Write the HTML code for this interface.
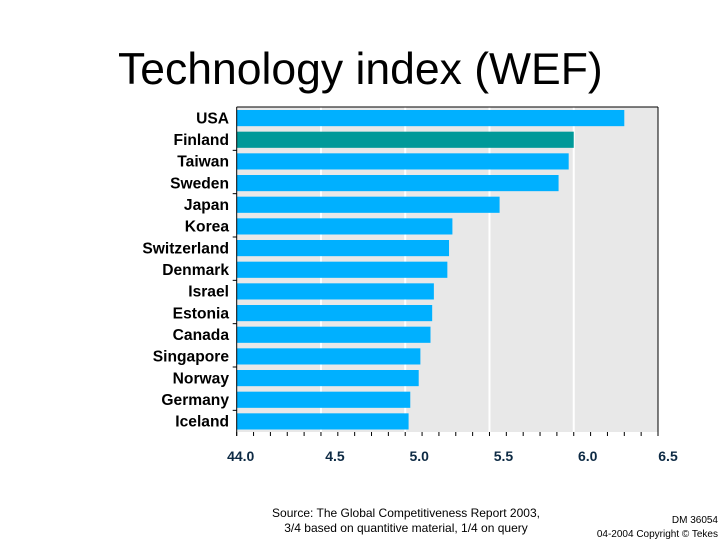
<!DOCTYPE html>
<html><head><meta charset="utf-8"><style>
body{margin:0;background:#fff;font-family:"Liberation Sans",sans-serif;}
#wrap{position:relative;width:720px;height:540px;overflow:hidden;}
.t{position:absolute;white-space:nowrap;}
</style></head><body>
<div id="wrap">
<div class="t" style="left:118px;top:45px;font-size:44.5px;">Technology index (WEF)</div>
<svg id="chart" width="720" height="540" style="position:absolute;left:0;top:0"></svg>
<div class="t" style="left:256px;top:506px;width:300px;text-align:center;font-size:12px;line-height:15px;">Source: The Global Competitiveness Report 2003,<br>3/4 based on quantitive material, 1/4 on query</div>
<div class="t" style="left:580px;top:514px;width:138px;text-align:right;font-size:10px;line-height:14px;">DM 36054<br>04-2004 Copyright © Tekes</div>
</div>
<script>
const categories=["USA","Finland","Taiwan","Sweden","Japan","Korea","Switzerland","Denmark","Israel","Estonia","Canada","Singapore","Norway","Germany","Iceland"];
const values=[6.30,6.00,5.97,5.91,5.56,5.28,5.26,5.25,5.17,5.16,5.15,5.09,5.08,5.03,5.02];
const highlight=["Finland"];
const tickValues=[4.0,4.5,5.0,5.5,6.0,6.5];
const tickLabels=["4.0","4.5","5.0","5.5","6.0","6.5"];
const NS="http://www.w3.org/2000/svg";
const svg=document.getElementById('chart');
const L=236.7,R=658,T=107,B=432,xmin=4,xmax=6.5;
const x=v=>L+(v-xmin)/(xmax-xmin)*(R-L);
const rowH=(B-T)/categories.length;
const y=i=>T+i*rowH;
function mk(tag,a){const e=document.createElementNS(NS,tag);for(const k in a)e.setAttribute(k,a[k]);svg.appendChild(e);return e;}
let bg=mk('rect',{x:L,y:T,width:R-L,height:B-T,fill:'#e8e8e8'});


tickValues.forEach((v,i)=>{if(i>0&&i<tickValues.length-1){let g=mk('line',{x1:x(v),x2:x(v),y1:T,y2:B,stroke:'#fff','stroke-width':2});

}});
categories.forEach((c,i)=>{
 let r=mk('rect',{x:L,y:y(i)+3,width:x(values[i])-L,height:rowH-5.5,fill:highlight.includes(c)?'#009999':'#00b0ff'});
 
 
 let t=mk('text',{x:229,y:y(i)+rowH/2+5.5,'text-anchor':'end','font-size':15.6,'font-weight':'bold',fill:'#000'});
 t.textContent=c;
 
 
 if(i%2==1){let tk=mk('line',{x1:L-4,x2:L,y1:y(i)+rowH,y2:y(i)+rowH,stroke:'#000'});
 
 }
});
let ax=mk('line',{x1:L,x2:L,y1:T,y2:B+4,stroke:'#000','stroke-width':1});


let rb=mk('line',{x1:R,x2:R,y1:T,y2:B+4,stroke:'#000','stroke-width':1});


let tb=mk('line',{x1:L,x2:R,y1:T,y2:T,stroke:'#000','stroke-width':1});


for(let v=xmin;v<=xmax+1e-6;v+=0.1){let tk=mk('line',{x1:x(v),x2:x(v),y1:B,y2:B+4,stroke:'#000'});

}
tickValues.forEach((v,i)=>{let t=mk('text',{x:x(v)+14,y:B+29,'text-anchor':'middle','font-size':14,'font-weight':'bold',fill:'#0d2a44'});
t.textContent=(i==0?'4':'')+tickLabels[i];
if(i==0)t.setAttribute('x',x(v)+4);
if(i==tickLabels.length-1)t.setAttribute('x',x(v)+10);

});
</script>
</body></html>
